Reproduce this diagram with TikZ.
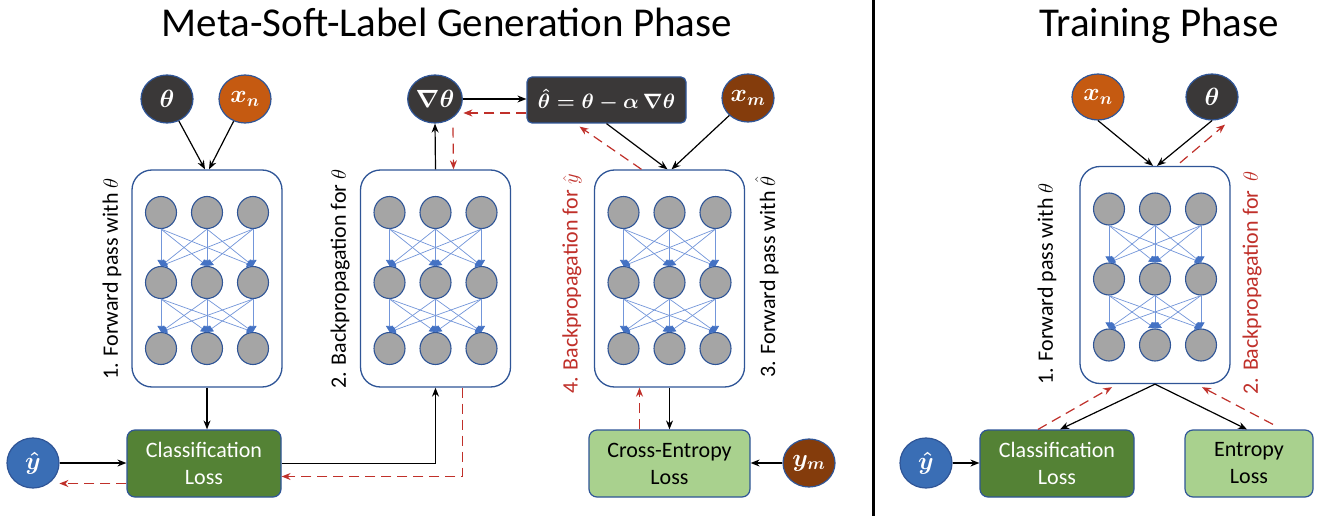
\documentclass[tikz,border=0pt]{standalone}
\usepackage{fontspec}
\setmainfont{Carlito}
\usetikzlibrary{shapes.geometric,arrows.meta}
\definecolor{darkc}{HTML}{3A3838}
\definecolor{orangec}{HTML}{C55A11}
\definecolor{brownc}{HTML}{843C0C}
\definecolor{bluec}{HTML}{3A6EB5}
\definecolor{bordc}{HTML}{2F5597}
\definecolor{neurc}{HTML}{A5A5A5}
\definecolor{linkc}{HTML}{7396DA}
\definecolor{headc}{HTML}{4472C4}
\definecolor{dgreen}{HTML}{548235}
\definecolor{lgreen}{HTML}{A9D18E}
\definecolor{redc}{HTML}{C0302A}
\newcommand\mynet[3]{%
  \node[netbox] (#1) at (#2,#3) {};
  \foreach \r/\dy in {1/-66,2/4,3/70}{
    \foreach \c/\dx in {1/-46,2/0,3/46}{
      \node[neuron] (#1-\r-\c) at (#2+\dx,#3+\dy) {};
    }
  }
  \foreach \r/\s in {1/2,2/3}{
    \foreach \a in {1,2,3}{
      \foreach \b in {1,2,3}{
        \draw[link] (#1-\r-\a.south) -- (#1-\s-\b.north);
      }
    }
  }
}
\begin{document}
\begin{tikzpicture}[x=1pt,y=-1pt,
  circ/.style={ellipse, draw=bordc, line width=1.2pt, minimum width=52pt, minimum height=48pt, inner sep=0pt, text=white, font=\fontsize{25}{28}\selectfont\boldmath},
  netbox/.style={draw=bordc, line width=1.3pt, rounded corners=20pt, minimum width=150pt, minimum height=217pt, fill=white},
  neuron/.style={ellipse, draw=bordc, fill=neurc, line width=1.1pt, minimum width=31pt, minimum height=32pt, inner sep=0pt},
  link/.style={draw=linkc, line width=0.7pt, -{Triangle[length=6pt,width=7pt,color=headc]}},
  arr/.style={draw=black, line width=1.2pt, -{Stealth[length=9pt,width=7pt]}},
  back/.style={draw=redc, line width=1.2pt, dash pattern=on 10pt off 6pt, -{Stealth[length=9pt,width=7pt]}},
  loss/.style={draw=bordc, line width=1.2pt, rounded corners=8pt, minimum height=67pt, align=center, font=\fontsize{22}{27}\selectfont},
  lab/.style={rotate=90, font=\fontsize{22}{26}\selectfont},
  ttl/.style={font=\fontsize{41}{44}\selectfont, anchor=base}
]
\useasboundingbox (0,0) rectangle (1320,516);
\fill[white] (0,0) rectangle (1320,516);

% titles and divider
\node[ttl] (t1) at (447,37) {Meta-Soft-Label Generation Phase};
\node[ttl] (t2) at (1159,37) {Training Phase};
\coordinate (dtop) at (873,0);
\coordinate (dbot) at (873,516);
\draw[line width=3pt] (dtop) -- (dbot);

% networks
\mynet{n1}{207}{278.5}
\mynet{n2}{435.5}{278.5}
\mynet{n3}{669.5}{278.5}
\mynet{n4}{1155}{275}

% left section inputs
\node[circ, fill=darkc] (th1) at (167,99) {$\theta$};
\node[circ, fill=orangec] (xn1) at (245,99) {$x_n$};
\node[circ, fill=darkc] (grad) at (435,99) {$\nabla\theta$};
\node[draw=bordc, line width=1.2pt, fill=darkc, rounded corners=5pt, minimum width=159pt, minimum height=46pt, inner sep=2pt, text=white, font=\fontsize{20}{24}\selectfont\boldmath] (form) at (606.5,100) {$\hat{\theta}=\theta-\alpha\,\nabla\theta$};
\node[circ, fill=brownc] (xm) at (748,98) {$x_m$};

\draw[arr] (th1) -- ([xshift=-2pt]n1.north);
\draw[arr] (xn1) -- ([xshift=2pt]n1.north);
\draw[arr] (n2.north) -- (grad.south);
\draw[back] ([xshift=18pt,yshift=-4pt]grad.south) -- ([xshift=18pt]n2.north);
\draw[arr] (grad.east) -- (grad.east -| form.west);
\draw[back] ([yshift=-13pt]form.west) -- ++(-63,0);
\draw[arr] (form.south) -- ([xshift=-2pt]n3.north);
\draw[arr] (xm) -- ([xshift=2pt]n3.north);
\draw[back] ([xshift=-28pt]n3.north) -- ([xshift=-27pt,yshift=-3pt]form.south);

% labels
\node[lab] (l1) at (112,279) {1. Forward pass with $\theta$};
\node[lab] (l2) at (340,279) {2. Backpropagation for $\theta$};
\node[lab, text=redc] (l4) at (572,284) {4. Backpropagation for $\hat{y}$};
\node[lab] (l3) at (767,277) {3. Forward pass with $\hat{\theta}$};

% left bottom
\node[circ, fill=bluec, minimum height=50pt] (yh1) at (33,463) {$\hat{y}$};
\node[loss, fill=dgreen, text=white, minimum width=154pt] (cl1) at (204,463.5) {Classification\\Loss};
\node[loss, fill=lgreen, minimum width=161pt] (ce) at (669.5,463.5) {Cross-Entropy\\Loss};
\node[circ, fill=brownc] (ym) at (809,463) {$y_m$};

\draw[arr] (n1.south) -- (n1.south |- cl1.north);
\draw[arr] (yh1.east) -- (yh1.east -| cl1.west);
\draw[back] ([yshift=-20pt]cl1.west) -- ++(-67,0);
\draw[arr] (cl1.east) -| (n2.south);
\draw[back] ([xshift=27pt]n2.south) |- ([yshift=-13pt]cl1.east);
\draw[arr] (n3.south) -- (n3.south |- ce.north);
\draw[back] ([xshift=-30pt]ce.north) -- ([xshift=-30pt]n3.south);
\draw[arr] (ym.west) -- (ym.west -| ce.east);

% right section
\node[circ, fill=orangec, minimum height=46pt] (xn2) at (1098,97) {$x_n$};
\node[circ, fill=darkc, minimum height=46pt] (th2) at (1212,97) {$\theta$};
\draw[arr] (xn2.south) -- ([xshift=-2pt]n4.north);
\draw[arr] (th2.south) -- ([xshift=2pt]n4.north);
\draw[back] ([xshift=25pt,yshift=3pt]n4.north) -- ([xshift=13pt,yshift=-4pt]th2.south);

\node[lab] (r1) at (1047,284) {1. Forward pass with $\theta$};
\node[lab, text=redc] (r2) at (1252,283) {2. Backpropagation for \,$\theta$};

\node[circ, fill=bluec, minimum height=50pt] (yh2) at (926,463) {$\hat{y}$};
\node[loss, fill=dgreen, text=white, minimum width=154pt] (cl2) at (1057,463.5) {Classification\\Loss};
\node[loss, fill=lgreen, minimum width=128pt] (ent) at (1249,463.5) {Entropy\\Loss};

\draw[arr] (yh2.east) -- (yh2.east -| cl2.west);
\draw[arr] (n4.south) -- ([xshift=3pt]cl2.north);
\draw[arr] (n4.south) -- ([xshift=-2pt]ent.north);
\draw[back] ([xshift=-19pt]cl2.north) -- ([xshift=-43pt,yshift=-3pt]n4.south);
\draw[back] ([xshift=24pt,yshift=5pt]ent.north) -- ([xshift=47pt,yshift=-3pt]n4.south);
\end{tikzpicture}
\end{document}
